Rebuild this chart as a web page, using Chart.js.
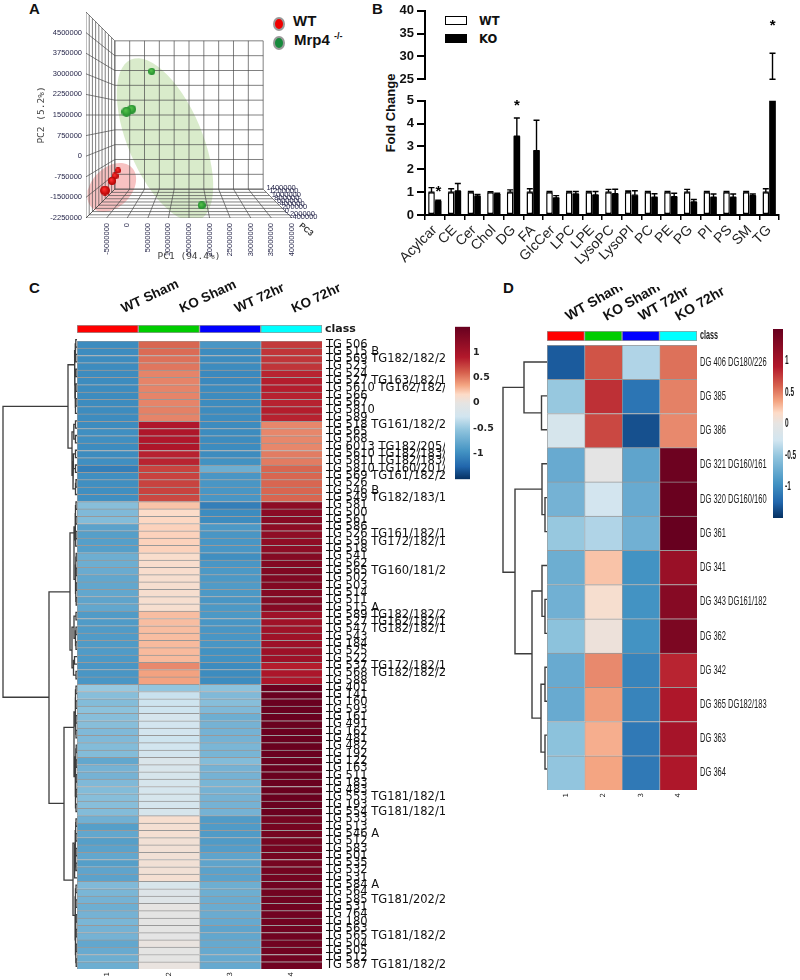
<!DOCTYPE html>
<html>
<head>
<meta charset="utf-8">
<title>Lipidomics panels</title>
<script src="https://cdn.jsdelivr.net/npm/chart.js@4"></script>
<style>
  html, body { margin: 0; background: #fff; }
  #page { position: relative; width: 800px; height: 980px; overflow: hidden; }
  canvas { position: absolute; }
  .t { position: absolute; white-space: nowrap; color: #111; font-family: "Liberation Sans", sans-serif; }
  .letter { font-weight: bold; font-size: 15px; }
  .dot { position: absolute; width: 8px; height: 10px; border-radius: 50%; border: 2px solid #999; }
  .box { position: absolute; width: 20px; height: 7px; border: 1.5px solid #000; }
</style>
</head>
<body>
<div id="page">
  <div class="t letter" style="left:29px;top:0px">A</div>
  <div class="t letter" style="left:372px;top:0px">B</div>
  <div class="t letter" style="left:29px;top:279px">C</div>
  <div class="t letter" style="left:503px;top:279px">D</div>

  <div class="dot" style="left:273px;top:17px;background:#f00000"></div>
  <div class="dot" style="left:273px;top:36px;background:#178a3c"></div>
  <div class="t" style="left:293px;top:12px;font-size:15px;font-weight:bold">WT</div>
  <div class="t" style="left:294px;top:31px;font-size:15px;font-weight:bold">Mrp4 <sup style="font-size:9px">-/-</sup></div>

  <div class="box" style="left:445px;top:16px;background:#fff"></div>
  <div class="box" style="left:445px;top:34px;background:#000"></div>
  <div class="t" style="left:479px;top:14px;font:bold 11.5px 'DejaVu Sans'">WT</div>
  <div class="t" style="left:479px;top:32px;font:bold 11.5px 'DejaVu Sans'">KO</div>
  <div class="t" style="left:390px;top:113px;font-size:13px;font-weight:bold;transform:translate(-50%,-50%) rotate(-90deg)">Fold Change</div>

  <canvas id="pca" width="340" height="270" style="left:0;top:0"></canvas>
  <canvas id="barsTop" width="420" height="90" style="left:370px;top:0"></canvas>
  <canvas id="barsLow" width="420" height="190" style="left:370px;top:90px"></canvas>

  <canvas id="dendC" width="77" height="634" style="left:0;top:336px"></canvas>
  <canvas id="classC" width="375" height="64" style="left:70px;top:270px"></canvas>
  <canvas id="heatC" width="375" height="650" style="left:70px;top:330px"></canvas>
  <canvas id="barC" width="50" height="170" style="left:455px;top:318px"></canvas>

  <canvas id="dendD" width="47" height="441" style="left:500px;top:345px"></canvas>
  <canvas id="classD" width="250" height="72" style="left:540px;top:270px"></canvas>
  <canvas id="heatD" width="250" height="461" style="left:540px;top:339px"></canvas>
  <canvas id="barD" width="27" height="199" style="left:773px;top:324px"></canvas>
</div>

<script>
"use strict";

const wtPc1 = [-2230000, -2960000, -3690000, -5390000];
const wtPc2 = [-520000, -720000, -900000, -1250000];
const koPc1 = [5950000, 1090000, -170000, 18080000];
const koPc2 = [3090000, 1710000, 1620000, -1790000];
const pc1Ticks = [-10000000, -5000000, 0, 5000000, 10000000, 15000000, 20000000, 25000000, 30000000, 35000000, 40000000];
const pc2Ticks = [-2250000, -1500000, -750000, 0, 750000, 1500000, 2250000, 3000000, 3750000, 4500000, 5250000];
const pc3Ticks = [-400000, -200000, 0, 200000, 400000, 600000, 800000, 1000000, 1200000, 1400000];

/* panel B */
const lipidClasses = ["Acylcar", "CE", "Cer", "Chol", "DG", "FA", "GlcCer", "LPC", "LPE", "LysoPC", "LysoPI", "PC", "PE", "PG", "PI", "PS", "SM", "TG"];
const wtFold = [1, 1, 1, 1, 1, 1, 1, 1, 1, 1, 1, 1, 1, 1, 1, 1, 1, 1];
const wtErrTop = [1.2, 1.15, 1.03, 1.02, 1.1, 1.15, 1.03, 1.03, 1.03, 1.12, 1.05, 1.03, 1.03, 1.12, 1.03, 1.03, 1.03, 1.15];
const koFold = [0.6, 1.05, 0.82, 0.92, 3.45, 2.82, 0.75, 0.92, 0.88, 0.93, 0.87, 0.78, 0.8, 0.57, 0.78, 0.78, 0.85, 25];
const koErrTop = [0.65, 1.38, 0.9, 0.95, 4.25, 4.15, 0.85, 1.03, 1.03, 1.13, 1.06, 0.93, 0.95, 0.68, 0.92, 0.92, 0.92, 30.7];
const starClasses = ["Acylcar", "DG", "TG"];
const starValues = [1.15, 4.9, 37.3];

/* panels C and D */
const groups = ["WT Sham", "KO Sham", "WT 72hr", "KO 72hr"];
const columnNumbers = ["1", "2", "3", "4"];
const colorbarTicks = [-1, -0.5, 0, 0.5, 1];
const classColors = ["#ff0000", "#00cd00", "#0000ff", "#00ffff"];

const rowsC = ["TG 506", "TG 515 B", "TG 569 TG182/182/2", "TG 523", "TG 524", "TG 527 TG163/182/1", "TG 5610 TG162/182/", "TG 566", "TG 567", "TG 5810", "TG 589",
  "TG 518 TG161/182/2", "TG 565", "TG 568", "TG 6013 TG182/205/", "TG 5610 TG182/183/", "TG 5811 TG182/183/", "TG 5810 TG160/201/", "TG 569 TG161/182/2", "TG 526", "TG 546 B", "TG 549 TG182/183/1",
  "TG 581", "TG 500", "TG 561", "TG 586", "TG 526 TG161/182/1", "TG 536 TG172/182/1", "TG 518",
  "TG 541", "TG 562", "TG 565 TG160/181/2", "TG 502", "TG 503", "TG 514", "TG 511", "TG 515 A",
  "TG 589 TG182/182/2", "TG 527 TG162/182/1", "TG 547 TG182/182/1", "TG 543", "TG 184", "TG 525", "TG 522", "TG 537 TG172/182/1", "TG 568 TG182/182/2", "TG 588",
  "TG 401", "TG 141", "TG 160", "TG 593", "TG 161", "TG 491", "TG 162", "TG 481", "TG 482", "TG 192", "TG 122", "TG 163", "TG 511", "TG 183", "TG 483", "TG 553 TG181/182/1", "TG 193", "TG 554 TG181/182/1",
  "TG 533", "TG 513", "TG 546 A", "TG 512", "TG 583", "TG 501", "TG 535", "TG 532", "TG 531",
  "TG 584 A", "TG 564", "TG 585 TG181/202/2", "TG 531", "TG 764", "TG 180", "TG 563", "TG 565 TG181/182/2", "TG 504", "TG 505", "TG 512", "TG 587 TG181/182/2"];

const cWtSham = [-1, -1, -1, -1, -1, -1, -1, -1, -1, -1, -1,
  -1, -0.98, -0.98, -1, -1, -0.98, -1.08, -0.98, -0.98, -0.98, -0.98,
  -0.58, -0.62, -0.6, -0.82, -0.85, -0.85, -0.85,
  -0.72, -0.72, -0.74, -0.78, -0.78, -0.78, -0.8, -0.78,
  -0.88, -0.88, -0.88, -0.88, -0.88, -0.88, -0.9, -0.92, -0.92, -0.92,
  -0.5, -0.58, -0.6, -0.55, -0.58, -0.58, -0.62, -0.62, -0.6, -0.6, -0.78, -0.68, -0.68, -0.62, -0.6, -0.58, -0.58, -0.6,
  -0.7, -0.85, -0.78, -0.85, -0.82, -0.78, -0.85, -0.8, -0.82,
  -0.62, -0.65, -0.68, -0.72, -0.68, -0.65, -0.68, -0.68, -0.78, -0.75, -0.72, -0.72];
const cKoSham = [0.58, 0.56, 0.54, 0.52, 0.47, 0.47, 0.47, 0.47, 0.47, 0.48, 0.47,
  0.92, 0.93, 0.92, 0.93, 0.86, 0.85, 0.72, 0.72, 0.72, 0.72, 0.7,
  0.25, 0.16, 0.18, 0.2, 0.2, 0.2, 0.2,
  0.14, 0.13, 0.13, 0.12, 0.12, 0.12, 0.12, 0.12,
  0.27, 0.27, 0.27, 0.27, 0.28, 0.28, 0.28, 0.45, 0.36, 0.36,
  -0.52, -0.3, -0.28, -0.28, -0.22, -0.25, -0.25, -0.28, -0.26, -0.24, -0.16, -0.18, -0.2, -0.2, -0.22, -0.2, -0.22, -0.2,
  0.12, 0.1, 0.1, 0.08, 0.08, 0.08, 0.08, 0.08, 0.1,
  -0.18, -0.12, -0.1, 0, -0.02, -0.02, -0.02, -0.03, 0.02, -0.02, -0.02, 0.02];
const cWt72 = [-0.92, -1, -1, -1, -1.02, -1.02, -1, -1, -1, -1, -1,
  -1, -1, -1, -1, -1, -0.96, -0.72, -0.92, -0.92, -0.92, -0.92,
  -1.08, -1, -1, -0.9, -0.92, -0.92, -0.92,
  -0.98, -0.92, -0.9, -0.9, -0.88, -0.9, -0.92, -0.9,
  -0.9, -0.92, -0.92, -0.92, -0.92, -0.96, -0.96, -1, -1, -1,
  -0.55, -0.62, -0.58, -0.62, -0.72, -0.68, -0.68, -0.68, -0.65, -0.66, -0.6, -0.68, -0.68, -0.66, -0.68, -0.68, -0.68, -0.68,
  -0.88, -0.88, -0.88, -0.88, -0.86, -0.8, -0.8, -0.82, -0.82,
  -0.72, -0.72, -0.74, -0.74, -0.74, -0.76, -0.8, -0.78, -0.76, -0.76, -0.76, -0.76];
const cKo72 = [0.76, 0.78, 0.78, 0.78, 0.85, 0.88, 0.88, 0.86, 0.86, 0.88, 0.86,
  0.46, 0.46, 0.46, 0.46, 0.5, 0.5, 0.58, 0.58, 0.58, 0.58, 0.58,
  1.2, 1.22, 1.24, 1.2, 1.18, 1.18, 1.2,
  1.26, 1.28, 1.3, 1.3, 1.28, 1.28, 1.28, 1.26,
  1.05, 1.05, 1.05, 1.05, 1.07, 1.07, 1.07, 0.88, 0.95, 0.95,
  1.48, 1.48, 1.48, 1.48, 1.48, 1.48, 1.48, 1.48, 1.48, 1.48, 1.48, 1.48, 1.48, 1.48, 1.48, 1.48, 1.48, 1.48,
  1.38, 1.38, 1.38, 1.38, 1.38, 1.38, 1.38, 1.4, 1.4,
  1.42, 1.42, 1.42, 1.42, 1.42, 1.42, 1.42, 1.42, 1.42, 1.42, 1.42, 1.42];

const rowsD = ["DG 406 DG180/226", "DG 385", "DG 386", "DG 321 DG160/161", "DG 320 DG160/160", "DG 361", "DG 341", "DG 343 DG161/182", "DG 362", "DG 342", "DG 365 DG182/183", "DG 363", "DG 364"];
const dWtSham = [-1.3, -0.5, -0.2, -0.75, -0.68, -0.5, -0.72, -0.7, -0.55, -0.75, -0.75, -0.55, -0.52];
const dKoSham = [0.65, 0.8, 0.7, -0.03, -0.25, -0.4, 0.25, 0.12, 0.05, 0.45, 0.38, 0.32, 0.35];
const dWt72 = [-0.4, -1.15, -1.35, -0.8, -0.75, -0.7, -0.95, -0.95, -0.95, -1.05, -1.05, -1.12, -1.12];
const dKo72 = [0.54, 0.48, 0.45, 1.45, 1.48, 1.5, 1.1, 1.25, 1.33, 0.85, 0.93, 1, 0.93];

/* dendrogram merges: [rowA, heightA, rowB, heightB, mergeHeight] */
const mergesC = [
  [0, 0, 1, 0, 1.2], [2, 0, 3, 0, 1.2], [0.5, 1.2, 2.5, 1.2, 2],
  [4, 0, 5, 0, 1], [6, 0, 7, 0, 1], [8, 0, 9, 0, 1], [8.5, 1, 10, 0, 1.5], [6.5, 1, 9.25, 1.5, 1.8], [4.5, 1, 7.9, 1.8, 2.1], [1.5, 2, 6.2, 2.1, 2.4],
  [11, 0, 12, 0, 1.5], [13, 0, 14, 0, 1.5], [11.5, 1.5, 13.5, 1.5, 3.2], [15, 0, 16, 0, 1.5], [17, 0, 18, 0, 1.5], [15.5, 1.5, 17.5, 1.5, 3.6],
  [19, 0, 20, 0, 1], [19.5, 1, 21, 0, 1.5], [16.5, 3.6, 20.25, 1.5, 4], [12.5, 3.2, 18.4, 4, 5],
  [3.4, 2.4, 14.7, 5, 9],
  [22, 0, 23, 0, 1], [24, 0, 25, 0, 1], [22.5, 1, 24.5, 1, 1.5], [26, 0, 27, 0, 1], [26.5, 1, 28, 0, 1.3], [23.5, 1.5, 27.25, 1.3, 2],
  [29, 0, 30, 0, 0.8], [31, 0, 32, 0, 0.8], [29.5, 0.8, 31.5, 0.8, 1.2], [33, 0, 34, 0, 0.8], [35, 0, 36, 0, 0.8], [33.5, 0.8, 35.5, 0.8, 1.2], [30.5, 1.2, 34.5, 1.2, 1.6],
  [25.4, 2, 32.5, 1.6, 3],
  [37, 0, 38, 0, 1], [39, 0, 40, 0, 1], [41, 0, 42, 0, 1], [39.5, 1, 41.5, 1, 1.5], [37.5, 1, 40.5, 1.5, 3], [43, 0, 44, 0, 2.5], [45, 0, 46, 0, 1], [43.5, 2.5, 45.5, 1, 3.5], [39, 3, 44.5, 3.5, 5],
  [26.2, 3, 42.1, 5, 7],
  [47, 0, 48, 0, 1], [49, 0, 50, 0, 1], [47.5, 1, 49.5, 1, 1.5], [51, 0, 52, 0, 1], [53, 0, 54, 0, 1], [51.5, 1, 53.5, 1, 1.3], [48.5, 1.5, 52.5, 1.3, 1.8],
  [55, 0, 56, 0, 0.8], [57, 0, 58, 0, 0.8], [55.5, 0.8, 57.5, 0.8, 1.2], [59, 0, 60, 0, 0.8], [61, 0, 62, 0, 0.8], [59.5, 0.8, 61.5, 0.8, 1.2], [63, 0, 64, 0, 1], [60.5, 1.2, 63.5, 1, 1.5], [56.5, 1.2, 62, 1.5, 1.8], [50.5, 1.8, 59.25, 1.8, 3],
  [65, 0, 66, 0, 1], [67, 0, 68, 0, 1], [65.5, 1, 67.5, 1, 1.3], [69, 0, 70, 0, 1], [71, 0, 72, 0, 1], [69.5, 1, 71.5, 1, 1.3], [66.5, 1.3, 70.5, 1.3, 2], [68.5, 2, 73, 0, 2.4],
  [74, 0, 75, 0, 1], [76, 0, 77, 0, 1], [74.5, 1, 76.5, 1, 1.5], [78, 0, 79, 0, 0.8], [80, 0, 81, 0, 0.8], [78.5, 0.8, 80.5, 0.8, 1.2], [82, 0, 83, 0, 0.8], [84, 0, 85, 0, 0.8], [82.5, 0.8, 84.5, 0.8, 1.2], [79.5, 1.2, 83.5, 1.2, 1.7], [75.5, 1.5, 81.5, 1.7, 2],
  [68.3, 2.4, 78.1, 2, 4],
  [52.6, 3, 73.3, 4, 13],
  [34.2, 7, 62.9, 13, 28],
  [9.05, 9, 48.5, 28, 74]
];
const mergesD = [
  [1, 0, 2, 0, 5.5], [0, 0, 1.5, 5.5, 23],
  [4, 0, 5, 0, 2], [3, 0, 4.5, 2, 5],
  [7, 0, 8, 0, 2], [6, 0, 7.5, 2, 5],
  [9, 0, 10, 0, 2], [11, 0, 12, 0, 2], [9.5, 2, 11.5, 2, 6],
  [6.75, 5, 10.5, 6, 15], [3.75, 5, 8.6, 15, 32],
  [0.75, 23, 6.2, 32, 44]
];

/* ---------- colour scale, stops ---------- */
const zStops = [-1.5, -1.25, -0.95, -0.52, -0.27, 0, 0.17, 0.35, 0.6, 0.9, 1.5];
const zColors = ["#053061", "#2166ac", "#4393c3", "#92c5de", "#d1e5f0", "#e6e4e2", "#fddbc7", "#f4a582", "#d6604d", "#b2182b", "#67001f"];

function hexRgb(h) {
  return [1, 3, 5].map((i) => parseInt(h.slice(i, i + 2), 16));
}

function zColor(z) {
  let i = 0;
  while (i < zStops.length - 2 && z > zStops[i + 1]) i++;
  const f = Math.max(0, Math.min(1, (z - zStops[i]) / (zStops[i + 1] - zStops[i])));
  const a = hexRgb(zColors[i]), b = hexRgb(zColors[i + 1]);
  return "rgb(" + a.map((v, k) => Math.round(v + (b[k] - v) * f)).join(",") + ")";
}

/* own tick text: panel D labels are tall and narrow, and a real tick label would eat the thin class bar */
function squeezedLabels(font, squeeze, gap) {
  return {
    id: "squeezedLabels",
    afterDraw(chart) {
      const { ctx, chartArea: a, scales: { y } } = chart;
      ctx.save();
      ctx.font = font;
      ctx.fillStyle = "#1a1a1a";
      ctx.textBaseline = "middle";
      y.ticks.forEach((t, i) => {
        ctx.save();
        ctx.translate(a.right + gap, y.getPixelForTick(i));
        ctx.scale(squeeze, 1);
        ctx.fillText(t.label, 0, 0);
        ctx.restore();
      });
      ctx.restore();
    },
  };
}

/* ---------- heatmaps: rows are categories, each column one stacked dataset ---------- */
const cellBorder = { top: 1, left: 1, right: 0, bottom: 0 };

function heatmap(id, rows, columns, pad, rightWidth, labelFont, extra) {
  new Chart(document.getElementById(id), {
    type: "bar",
    data: {
      labels: rows,
      datasets: columns.map((col) => ({
        data: col.map(() => 1),
        backgroundColor: col.map(zColor),
        borderColor: "#999",
        borderWidth: cellBorder,
        borderSkipped: false,
        barPercentage: 1,
        categoryPercentage: 1,
      })),
    },
    options: {
      indexAxis: "y",
      responsive: false,
      animation: false,
      layout: { padding: pad },
      plugins: { legend: { display: false }, tooltip: { enabled: false } },
      scales: {
        x: {
          type: "linear", stacked: true, min: 0, max: 4,
          grid: { display: false, drawTicks: false }, border: { display: false },
          afterFit: (s) => { s.height = 10; },
          afterBuildTicks: (s) => { s.ticks = columnNumbers.map((c, i) => ({ value: i + 0.5 })); },
          ticks: {
            minRotation: 90, maxRotation: 90, padding: 3, color: "#222",
            font: { family: "DejaVu Sans", size: 7 },
            callback: (v, i) => columnNumbers[i],
          },
        },
        y: {
          position: "right", stacked: true,
          grid: { display: false, drawTicks: false }, border: { display: false },
          afterFit: (s) => { s.width = rightWidth; },
          ticks: { display: !extra, autoSkip: false, padding: 4, color: "#111", font: labelFont },
        },
      },
    },
    plugins: extra ? [extra] : [],
  });
}

function classBar(id, pad, rightWidth, headerAt, headerRotation, headerGap, headerSize, extra) {
  new Chart(document.getElementById(id), {
    type: "bar",
    data: {
      labels: ["class"],
      datasets: classColors.map((c) => ({
        data: [1], backgroundColor: c, borderColor: "#999", borderWidth: 1, borderSkipped: false,
        barPercentage: 1, categoryPercentage: 1,
      })),
    },
    options: {
      indexAxis: "y",
      responsive: false,
      animation: false,
      layout: { padding: pad },
      plugins: { legend: { display: false }, tooltip: { enabled: false } },
      scales: {
        x: {
          type: "linear", position: "top", stacked: true, min: 0, max: 4,
          grid: { display: false, drawTicks: false }, border: { display: false },
          afterFit: (s) => { s.height = 44; },
          afterBuildTicks: (s) => { s.ticks = headerAt.map((v) => ({ value: v })); },
          ticks: {
            minRotation: headerRotation, maxRotation: headerRotation, padding: headerGap, color: "#111",
            font: { family: "Liberation Sans", size: headerSize, weight: "bold" },
            callback: (v, i) => groups[i],
          },
        },
        y: {
          position: "right", stacked: true,
          grid: { display: false, drawTicks: false }, border: { display: false },
          afterFit: (s) => { s.width = rightWidth; },
          ticks: { display: false },
        },
      },
    },
    plugins: [extra],
  });
}

function colorbar(id, axisWidth, labelFont, extra) {
  new Chart(document.getElementById(id), {
    type: "bar",
    data: {
      labels: ["z"],
      datasets: [{
        data: [[-1.5, 1.5]],
        barPercentage: 1,
        categoryPercentage: 1,
        backgroundColor: (ctx) => {
          const a = ctx.chart.chartArea;
          if (!a) return "#ccc";
          const g = ctx.chart.ctx.createLinearGradient(0, a.bottom, 0, a.top);
          zColors.forEach((c, i) => g.addColorStop((zStops[i] + 1.5) / 3, c));
          return g;
        },
      }],
    },
    options: {
      responsive: false,
      animation: false,
      layout: { padding: { top: 5, bottom: 5 } },
      plugins: { legend: { display: false }, tooltip: { enabled: false } },
      scales: {
        x: { display: false },
        y: {
          position: "right", min: -1.5, max: 1.5,
          grid: { display: false, drawTicks: false }, border: { display: false },
          afterFit: (s) => { s.width = axisWidth; },
          afterBuildTicks: (s) => { s.ticks = colorbarTicks.map((v) => ({ value: v })); },
          ticks: { display: !extra, padding: 3, color: "#222", font: labelFont, callback: (v) => String(v) },
        },
      },
    },
    plugins: extra ? [extra] : [],
  });
}

function dendrogram(id, merges, rowCount, maxHeight, lineWidth) {
  const pts = [];
  for (const [yA, dA, yB, dB, d] of merges) {
    pts.push({ x: dA, y: yA }, { x: d, y: yA }, { x: d, y: yB }, { x: dB, y: yB }, { x: NaN, y: NaN });
  }
  new Chart(document.getElementById(id), {
    type: "scatter",
    data: { datasets: [{ data: pts, showLine: true, pointRadius: 0, borderColor: "#3c3c3c", borderWidth: lineWidth, clip: false }] },
    options: {
      responsive: false,
      animation: false,
      plugins: { legend: { display: false }, tooltip: { enabled: false } },
      scales: {
        x: { display: false, min: 0, max: maxHeight, reverse: true },
        y: { display: false, min: -0.5, max: rowCount - 0.5, reverse: true },
      },
    },
  });
}

/* ---------- panel B ---------- */
function errorBars(tops) {
  return {
    id: "errorBars",
    afterDatasetsDraw(chart) {
      const { ctx, chartArea: a, scales: { y } } = chart;
      ctx.save();
      ctx.beginPath();
      ctx.rect(a.left, a.top - 1, a.right - a.left, a.bottom - a.top + 2);
      ctx.clip();
      ctx.strokeStyle = "#000";
      ctx.lineWidth = 1.4;
      chart.data.datasets.forEach((ds, k) => {
        chart.getDatasetMeta(k).data.forEach((bar, i) => {
          const y0 = y.getPixelForValue(ds.data[i]);
          const y1 = y.getPixelForValue(tops[k][i]);
          ctx.beginPath();
          ctx.moveTo(bar.x, y0); ctx.lineTo(bar.x, y1);
          ctx.moveTo(bar.x - 3, y1); ctx.lineTo(bar.x + 3, y1);
          ctx.moveTo(bar.x - 3, y0); ctx.lineTo(bar.x + 3, y0);
          ctx.stroke();
        });
      });
      ctx.restore();
    },
  };
}

const starMarks = {
  id: "starMarks",
  afterDraw(chart) {
    const { ctx, scales: { x, y } } = chart;
    ctx.save();
    ctx.fillStyle = "#000";
    ctx.font = "bold 15px 'Liberation Sans'";
    ctx.textAlign = "center";
    ctx.textBaseline = "middle";
    starClasses.forEach((c, i) => {
      const v = starValues[i];
      if (v < y.min || v > y.max) return;
      ctx.fillText("*", x.getPixelForValue(lipidClasses.indexOf(c)) + 3.5, y.getPixelForValue(v) + 3);
    });
    ctx.restore();
  },
};

function foldChart(id, yMin, yMax, step, bottomAxis, padTop, canvasPadBottom) {
  new Chart(document.getElementById(id), {
    type: "bar",
    data: {
      labels: lipidClasses,
      datasets: [
        { label: "WT", data: wtFold, backgroundColor: "#fff", borderColor: "#000", borderWidth: 1.5, borderSkipped: false, barPercentage: 1, categoryPercentage: 0.68 },
        { label: "KO", data: koFold, backgroundColor: "#000", borderWidth: 0, barPercentage: 1, categoryPercentage: 0.68 },
      ],
    },
    options: {
      responsive: false,
      animation: false,
      layout: { padding: { top: padTop, right: 11, bottom: canvasPadBottom } },
      plugins: { legend: { display: false }, tooltip: { enabled: false } },
      scales: {
        x: {
          display: bottomAxis,
          grid: { display: true, drawOnChartArea: false, drawTicks: true, tickLength: 5, color: "#000", lineWidth: 1.5 },
          border: { color: "#000", width: 2 },
          afterFit: (s) => { if (bottomAxis) s.height = 65; },
          ticks: { autoSkip: false, minRotation: 45, maxRotation: 45, padding: 2, color: "#222", font: { family: "Liberation Sans", size: 14 } },
        },
        y: {
          min: yMin, max: yMax,
          grid: { display: true, drawOnChartArea: false, drawTicks: true, tickLength: 8, color: "#000", lineWidth: 2 },
          border: { color: "#000", width: 2 },
          afterFit: (s) => { s.width = 55; },
          ticks: { stepSize: step, padding: 3, color: "#111", font: { family: "Liberation Sans", size: 13, weight: "bold" } },
        },
      },
    },
    plugins: [errorBars([wtErrTop, koErrTop]), starMarks],
  });
}

/* ---------- panel A ---------- */
const vanishX = 15000000, vanishY = 1500000, backScale = 0.72;

function project(x, y, s) {
  return { x: vanishX + (x - vanishX) * s, y: vanishY + (y - vanishY) * s };
}

function boxGrid() {
  const pts = [];
  const seg = (a, b) => pts.push(a, b, { x: NaN, y: NaN });
  const xLo = pc1Ticks[0], xHi = pc1Ticks[pc1Ticks.length - 1];
  const yLo = pc2Ticks[0], yHi = pc2Ticks[pc2Ticks.length - 1];
  const depth = pc3Ticks.map((v, i) => 1 - (1 - backScale) * i / (pc3Ticks.length - 1));
  for (const x of pc1Ticks) {
    seg(project(x, yLo, backScale), project(x, yHi, backScale));   // back wall
    seg(project(x, yLo, 1), project(x, yLo, backScale));           // floor
  }
  for (const y of pc2Ticks) {
    seg(project(xLo, y, backScale), project(xHi, y, backScale));   // back wall
    seg(project(xLo, y, 1), project(xLo, y, backScale));           // side wall
  }
  for (const s of depth) {
    seg(project(xLo, yLo, s), project(xHi, yLo, s));               // floor
    seg(project(xLo, yLo, s), project(xLo, yHi, s));               // side wall
  }
  return pts;
}

function ellipse(cx, cy, ax, ay, bx, by) {
  const pts = [];
  for (let a = 0; a <= 360; a += 6) {
    const c = Math.cos(a * Math.PI / 180), s = Math.sin(a * Math.PI / 180);
    pts.push({ x: cx + ax * c + bx * s, y: cy + ay * c + by * s });
  }
  return pts;
}

function ball(color, r) {
  const c = document.createElement("canvas");
  c.width = c.height = Math.ceil(r * 2);
  const g = c.getContext("2d");
  const grad = g.createRadialGradient(r * 0.8, r * 0.7, r * 0.1, r, r, r);
  grad.addColorStop(0, color[0]);
  grad.addColorStop(1, color[1]);
  g.fillStyle = grad;
  g.arc(r, r, r, 0, Math.PI * 2);
  g.fill();
  return c;
}

const pc3Labels = {
  id: "pc3Labels",
  afterDraw(chart) {
    const { ctx, scales: { x, y } } = chart;
    const xHi = pc1Ticks[pc1Ticks.length - 1], yLo = pc2Ticks[0];
    ctx.save();
    ctx.fillStyle = "#26264a";
    ctx.font = "7.5px 'Liberation Sans'";
    ctx.textBaseline = "middle";
    pc3Ticks.forEach((v, i) => {
      const p = project(xHi, yLo, 1 - (1 - backScale) * i / (pc3Ticks.length - 1));
      ctx.fillText(String(v), x.getPixelForValue(p.x) - 2 + i * 0.6, y.getPixelForValue(p.y) - 1);
    });
    ctx.translate(x.getPixelForValue(xHi) + 12, y.getPixelForValue(yLo) + 2);
    ctx.rotate(40 * Math.PI / 180);
    ctx.font = "bold 8px 'Liberation Sans'";
    ctx.fillStyle = "#333";
    ctx.fillText("PC3", 0, 6);
    ctx.restore();
  },
};

function pcaChart() {
  const xy = (xs, ys) => xs.map((x, i) => ({ x, y: ys[i] }));
  new Chart(document.getElementById("pca"), {
    type: "scatter",
    data: {
      datasets: [
        { data: xy(wtPc1, wtPc2), order: 0, pointStyle: [3, 3.5, 4, 5].map((r) => ball(["#ff3030", "#b00000"], r)) },
        { data: xy(koPc1, koPc2), order: 0, pointStyle: [3.5, 4.5, 5, 4].map((r) => ball(["#55c24a", "#1f8a2c"], r)) },
        { data: boxGrid(), order: 1, showLine: true, pointRadius: 0, borderColor: "#4a4a4a", borderWidth: 0.7 },
        { data: ellipse(-3760000, -1137000, 4850000, 730000, 3400000, -510000), order: 2, showLine: true, fill: "shape", pointRadius: 0, borderWidth: 0, backgroundColor: "rgba(238,120,120,0.45)" },
        { data: ellipse(9170000, 600000, 8250000, -2920000, 8300000, 530000), order: 2, showLine: true, fill: "shape", pointRadius: 0, borderWidth: 0, backgroundColor: "rgba(170,210,140,0.45)" },
      ],
    },
    options: {
      responsive: false,
      animation: false,
      layout: { padding: { left: 36, top: 12, right: 48, bottom: 8 } },
      plugins: { legend: { display: false }, tooltip: { enabled: false } },
      scales: {
        x: {
          min: pc1Ticks[0], max: pc1Ticks[pc1Ticks.length - 1],
          grid: { display: false, drawTicks: false }, border: { display: false },
          afterFit: (s) => { s.height = 44; },
          afterBuildTicks: (s) => { s.ticks = pc1Ticks.slice(1).map((v) => ({ value: v })); },
          title: { display: true, text: "PC1 (94.4%)", color: "#444", padding: 0, font: { family: "DejaVu Sans Mono", size: 9.5 } },
          ticks: { minRotation: 90, maxRotation: 90, padding: 5, color: "#26264a", font: { family: "Liberation Sans", size: 7.5 }, callback: (v) => String(v) },
        },
        y: {
          min: pc2Ticks[0], max: pc2Ticks[pc2Ticks.length - 1],
          grid: { display: false, drawTicks: false }, border: { display: false },
          afterFit: (s) => { s.width = 50; },
          afterBuildTicks: (s) => { s.ticks = pc2Ticks.slice(0, -1).map((v) => ({ value: v })); },
          title: { display: true, text: "PC2 (5.2%)", color: "#444", padding: 0, font: { family: "DejaVu Sans Mono", size: 9.5 } },
          ticks: { padding: 4, color: "#26264a", font: { family: "Liberation Sans", size: 7.5 }, callback: (v) => String(v) },
        },
      },
    },
    plugins: [pc3Labels],
  });
}

/* ---------- build everything ---------- */
pcaChart();

foldChart("barsTop", 25, 40, 5, false, 8, 8);
foldChart("barsLow", 0, 5, 1, true, 10, 0);

const dejaLabel = { family: "DejaVu Sans", size: 11.5 };
const plainLabel = { family: "Liberation Sans", size: 11 };

dendrogram("dendC", mergesC, rowsC.length, 77, 1.3);
classBar("classC", { top: 11, bottom: 1, left: 7, right: 0 }, 123, [0.85, 1.8, 2.7, 3.63], 25, 8, 13.5, squeezedLabels("bold 11px 'DejaVu Sans'", 1, 3));
heatmap("heatC", rowsC, [cWtSham, cKoSham, cWt72, cKo72], { top: 6, left: 7 }, 123, dejaLabel);
colorbar("barC", 35, { family: "DejaVu Sans", size: 9.5, weight: "bold" });

dendrogram("dendD", mergesD, rowsD.length, 47, 1.4);
classBar("classD", { top: 17, bottom: 1, left: 7, right: 0 }, 93, [0.75, 1.76, 2.7, 3.68], 30, 6, 14, squeezedLabels("bold 12px 'Liberation Sans'", 0.6, 3));
heatmap("heatD", rowsD, [dWtSham, dKoSham, dWt72, dKo72], { top: 6, left: 7 }, 93, plainLabel, squeezedLabels("13px 'Liberation Sans'", 0.58, 3));
colorbar("barD", 17, plainLabel, squeezedLabels("bold 13px 'Liberation Sans'", 0.5, 2));
</script>
</body>
</html>
